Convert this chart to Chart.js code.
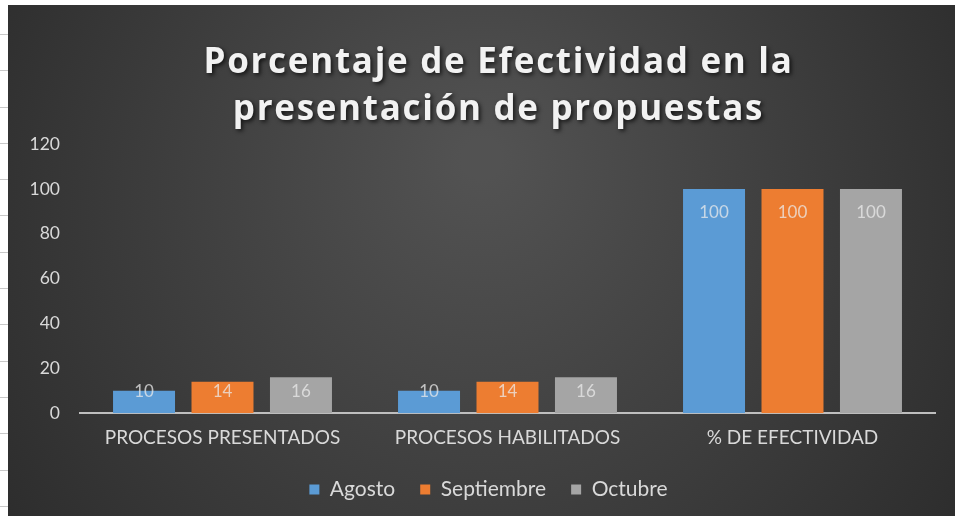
<!DOCTYPE html>
<html>
<head>
<meta charset="utf-8">
<script src="https://cdn.jsdelivr.net/npm/chart.js@4/dist/chart.umd.min.js"></script>
<style>
  html, body { margin: 0; padding: 0; background: #ffffff; width: 955px; height: 516px; overflow: hidden; }
  #strip { position: absolute; left: 0; top: 0; width: 8px; height: 516px;
    background: repeating-linear-gradient(to bottom, transparent 0px, transparent 34px, #c8c8c8 34px, #c8c8c8 35px, transparent 35px, transparent 36.3px); }
  #wrap { position: absolute; left: 8px; top: 5px; width: 947px; height: 511px; }
</style>
</head>
<body>
<div id="strip"></div>
<div id="wrap"><canvas id="c" width="947" height="511"></canvas></div>
<script>
const categories = ["PROCESOS PRESENTADOS", "PROCESOS HABILITADOS", "% DE EFECTIVIDAD"];
const seriesNames = ["Agosto", "Septiembre", "Octubre"];
const agosto = [10, 10, 100];
const septiembre = [14, 14, 100];
const octubre = [16, 16, 100];
const yTicks = [0, 20, 40, 60, 80, 100, 120];
const titleLines = ["Porcentaje de Efectividad en la", "presentación de propuestas"];

const colors = ["#5B9BD5", "#ED7D31", "#A5A5A5"];
const FONT = "Lato, 'Open Sans', sans-serif";
const TFONT = "'Open Sans', Lato, sans-serif";

const bgPlugin = {
  id: 'bg',
  beforeDraw(chart) {
    const ctx = chart.ctx, w = chart.width, h = chart.height;
    ctx.save();
    const g = ctx.createRadialGradient(w * 0.5, h * 0.3, 20, w * 0.5, h * 0.45, w * 0.62);
    g.addColorStop(0, '#525252');
    g.addColorStop(1, '#2b2b2b');
    ctx.fillStyle = g;
    ctx.fillRect(0, 0, w, h);
    ctx.restore();
  }
};

const labelPlugin = {
  id: 'barLabels',
  afterDatasetsDraw(chart) {
    const ctx = chart.ctx;
    const base = chart.scales.y.getPixelForValue(0);
    ctx.save();
    ctx.font = "17px " + FONT;
    ctx.fillStyle = 'rgba(235,235,235,0.75)';
    ctx.textAlign = 'center';
    ctx.textBaseline = 'middle';
    chart.data.datasets.forEach((ds, i) => {
      chart.getDatasetMeta(i).data.forEach((bar, j) => {
        const y = Math.min(bar.y + 24, base - 22);
        ctx.fillText(String(ds.data[j]), bar.x, y);
      });
    });
    ctx.restore();
  }
};

const chart = new Chart(document.getElementById('c'), {
  type: 'bar',
  data: {
    labels: categories,
    datasets: [
      { label: seriesNames[0], data: agosto, backgroundColor: colors[0] },
      { label: seriesNames[1], data: septiembre, backgroundColor: colors[1] },
      { label: seriesNames[2], data: octubre, backgroundColor: colors[2] }
    ]
  },
  options: {
    responsive: false,
    animation: false,
    layout: { padding: { left: 10, right: 20, top: 12, bottom: 6 } },
    datasets: { bar: { categoryPercentage: 0.826, barPercentage: 0.79 } },
    scales: {
      x: {
        afterFit(scale) { scale.height = scale.height - 8; },
        grid: { display: false, drawTicks: false },
        border: { display: true, color: '#bfbfbf', width: 2 },
        ticks: { color: '#d9d9d9', font: { family: FONT, size: 19 }, padding: 13, maxRotation: 0 }
      },
      y: {
        min: 0, max: 120,
        afterBuildTicks(scale) { scale.ticks = yTicks.map(v => ({ value: v })); },
        afterFit(scale) { scale.width = 62; },
        grid: { display: false, drawTicks: false },
        border: { display: false },
        ticks: { color: '#d9d9d9', font: { family: FONT, size: 17.5 }, padding: 20 }
      }
    },
    plugins: {
      title: {
        display: true,
        text: titleLines,
        color: '#f2f2f2',
        font: { family: TFONT, size: 35, weight: 'bold', lineHeight: 1.33 },
        padding: { top: 18, bottom: 16 }
      },
      legend: {
        position: 'bottom',
        labels: { color: '#d9d9d9', font: { family: FONT, size: 21 }, boxWidth: 10, boxHeight: 10, padding: 25 }
      },
      tooltip: { enabled: false }
    }
  },
  plugins: [bgPlugin, labelPlugin]
});

// Title drawn with letter spacing and a soft shadow, placed like the original
const tb = chart.titleBlock;
const origTitleDraw = tb.draw.bind(tb);
tb.draw = function (area) {
  const ctx = chart.ctx;
  ctx.save();
  ctx.translate(22, 5);
  ctx.letterSpacing = '1.7px';
  ctx.shadowColor = 'rgba(0,0,0,0.7)';
  ctx.shadowBlur = 4;
  ctx.shadowOffsetX = 2;
  ctx.shadowOffsetY = 2;
  origTitleDraw(area);
  ctx.restore();
};
// Legend sits slightly right of centre in the original
const lg = chart.legend;
const origLegendDraw = lg.draw.bind(lg);
lg.draw = function (area) {
  const ctx = chart.ctx;
  ctx.save();
  ctx.translate(12, 0);
  origLegendDraw(area);
  ctx.restore();
};
chart.draw();
</script>
</body>
</html>
